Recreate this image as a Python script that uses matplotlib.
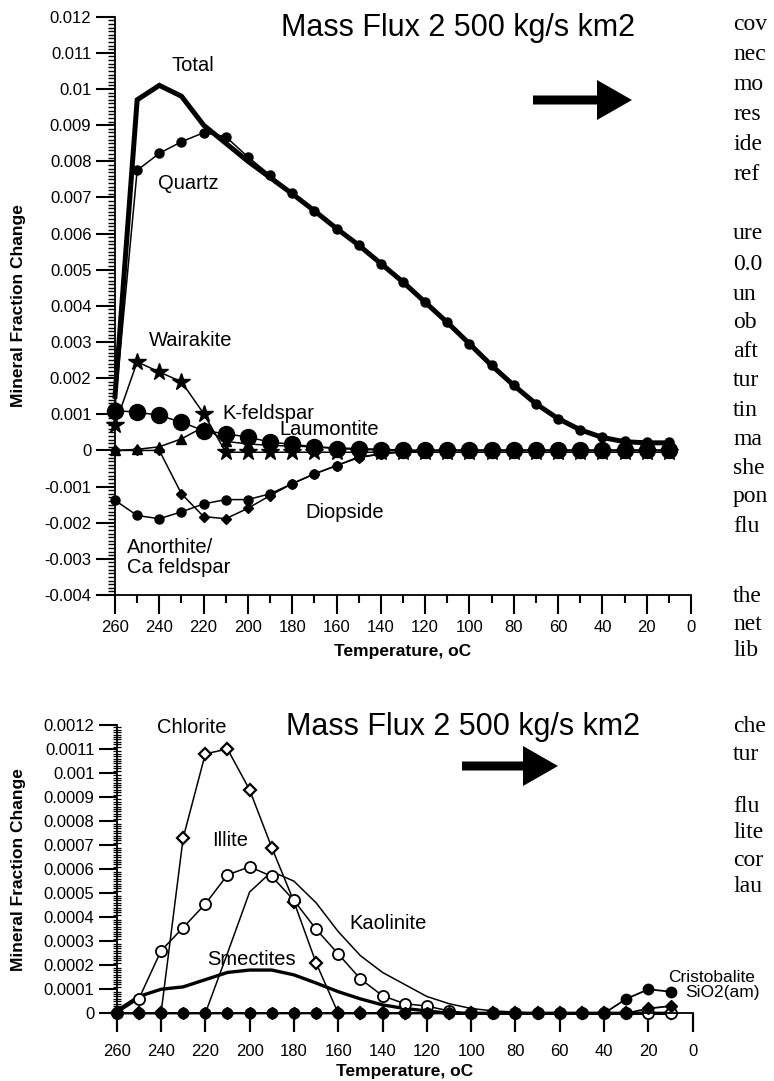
import matplotlib
matplotlib.use("Agg")
import matplotlib.pyplot as plt
from matplotlib.patches import FancyArrow
from matplotlib.ticker import MultipleLocator, FixedLocator, FixedFormatter, NullLocator

plt.rcParams['font.family'] = ['Liberation Sans', 'DejaVu Sans']

# ---------------- data ----------------
temps = [260, 250, 240, 230, 220, 210, 200, 190, 180, 170, 160, 150, 140,
         130, 120, 110, 100, 90, 80, 70, 60, 50, 40, 30, 20, 10]

# top panel
total = [0.0015, 0.0097, 0.0101, 0.0098, 0.0090, 0.0085, 0.0080, 0.00755, 0.0071, 0.00663,
         0.00614, 0.00568, 0.00517, 0.00466, 0.0041, 0.00354, 0.00295, 0.00235, 0.0018,
         0.00129, 0.00088, 0.00057, 0.00036, 0.00024, 0.00021, 0.00021]
quartz = [0.0012, 0.00775, 0.00822, 0.00854, 0.00879, 0.00868, 0.00812, 0.00762, 0.00711,
          0.00663, 0.00614, 0.00568, 0.00517, 0.00466, 0.0041, 0.00354, 0.00295, 0.00235,
          0.0018, 0.00129, 0.00088, 0.00057, 0.00037, 0.00025, 0.00022, 0.00022]
wairakite = [0.0007, 0.00245, 0.00217, 0.0019, 0.00102, -0.00005, -0.00005, -0.00005,
             -0.00005, -0.00005, -0.00005, -0.00005, -0.00005, -0.00005, -0.00005, -0.00005,
             -0.00005, -0.00005, -0.00005, -0.00005, -0.00005, -0.00005, -0.00005, -0.00005,
             -0.00005, -0.00005]
kfeldspar = [0.0011, 0.00106, 0.00097, 0.00078, 0.00055, 0.00046, 0.00037, 0.00023, 0.00017,
             0.0001, 0.00005, 0.00003, 0.00001, 0, 0, 0, 0, 0, 0, 0, 0, 0, 0, 0, 0, 0]
laumontite = [0, 0.00003, 0.0001, 0.00032, 0.00065, 0.00025, 0.00018, 0.00014, 0.00012,
              0.0001, 0.00007, 0.00005, 0.00003, 0.00001, 0, 0, 0, 0, 0, 0, 0, 0, 0, 0, 0, 0]
diopside = [0, 0, 0, -0.0012, -0.00183, -0.00189, -0.0016, -0.00125, -0.00092, -0.00065,
            -0.00042, -0.0002, -0.0001, -0.00003, 0, 0, 0, 0, 0, 0, 0, 0, 0, 0, 0, 0]
anorthite = [-0.00138, -0.0018, -0.00189, -0.0017, -0.00148, -0.00136, -0.00136, -0.0012,
             -0.00092, -0.00065, -0.00042, -0.00018, -0.0001, -0.00004, -0.00001, 0, 0, 0,
             0, 0, 0, 0, 0, 0, 0, 0]

# bottom panel
chlorite = [0, 0, 0, 0.00073, 0.00108, 0.0011, 0.00093, 0.00069, 0.000465, 0.00021, 0,
            0, 0, 0, 0, 0, 0, 0, 0, 0, 0, 0, 0, 0, 0, 0]
illite = [0, 0.00006, 0.00026, 0.000357, 0.000455, 0.000576, 0.00061, 0.00057, 0.00047,
          0.00035, 0.000247, 0.000143, 0.000073, 0.00004, 0.00003, 0.00001, 0, 0, 0, 0,
          0, 0, 0, 0, 0, 0]
kaolinite = [0, 0, 0, 0, 0, 0.00025, 0.000505, 0.00059, 0.00055, 0.00046, 0.00034, 0.00024,
             0.00017, 0.00012, 0.00007, 0.00004, 0.00002, 0.00001, 0.000005, 0, 0, 0, 0, 0,
             0, 0]
smectites = [0.00001, 0.00007, 0.0001, 0.00011, 0.00014, 0.00017, 0.00018, 0.00018, 0.00016,
             0.000126, 0.00009, 0.00006, 0.000035, 0.00002, 0.00001, 0, 0, 0, 0, 0, 0, 0, 0,
             0, 0, 0]
cristobalite = [0, 0, 0, 0, 0, 0, 0, 0, 0, 0, 0, 0, 0, 0, 0, 0, 0, 0, 0, 0, 0, 0, 0,
                0.00006, 0.0001, 0.00009]
sio2am = [0, 0, 0, 0, 0, 0, 0, 0, 0, 0, 0, 0, 0, 0, 0, 0, 0, 0, 0, 0, 0, 0, 0, 0,
          0.00002, 0.00003]

xticks = [260, 240, 220, 200, 180, 160, 140, 120, 100, 80, 60, 40, 20, 0]
yticks_top = [-0.004, -0.003, -0.002, -0.001, 0, 0.001, 0.002, 0.003, 0.004, 0.005,
              0.006, 0.007, 0.008, 0.009, 0.01, 0.011, 0.012]
ylabels_top = ['-0.004', '-0.003', '-0.002', '-0.001', '0', '0.001', '0.002', '0.003',
               '0.004', '0.005', '0.006', '0.007', '0.008', '0.009', '0.01', '0.011', '0.012']
yticks_bot = [0, 0.0001, 0.0002, 0.0003, 0.0004, 0.0005, 0.0006, 0.0007, 0.0008, 0.0009,
              0.001, 0.0011, 0.0012]
ylabels_bot = ['0', '0.0001', '0.0002', '0.0003', '0.0004', '0.0005', '0.0006', '0.0007',
               '0.0008', '0.0009', '0.001', '0.0011', '0.0012']

title = 'Mass Flux 2 500 kg/s km2'
side_text = [('cov', 24), ('nec', 54), ('mo', 84), ('res', 114), ('ide', 144), ('ref', 174),
             ('ure', 234), ('0.0', 264), ('un', 294), ('ob', 323), ('aft', 352), ('tur', 381),
             ('tin', 410), ('ma', 439), ('she', 468), ('pon', 497), ('flu', 526),
             ('the', 597), ('net', 624), ('lib', 651), ('che', 727), ('tur', 754),
             ('flu', 806), ('lite', 833), ('cor', 860), ('lau', 887)]

# ---------------- figure ----------------
W, H = 774, 1081
fig = plt.figure(figsize=(W / 100, H / 100), dpi=100)
fig.patch.set_facecolor('white')


def rect(l, r, t, b):
    return [l / W, 1 - b / H, (r - l) / W, (b - t) / H]


K = 'black'

# ======== top panel ========
ax1 = fig.add_axes(rect(115, 691, 16.7, 595))
ax1.set_xlim(260, 0)
ax1.set_ylim(-0.004, 0.012)
kw = dict(color=K, clip_on=False)
ax1.plot(temps, anorthite, marker='o', ms=6.5, lw=1.1, **kw)
ax1.plot(temps, diopside, marker='D', ms=5.5, lw=1.1, **kw)
ax1.plot(temps, laumontite, marker='^', ms=7.5, lw=1.1, **kw)
ax1.plot(temps, kfeldspar, marker='o', ms=11.5, lw=1.1, **kw)
ax1.plot(temps, wairakite, marker='*', ms=13, lw=1.1, **kw)
ax1.plot(temps, quartz, marker='o', ms=6.5, lw=1.1, **kw)
ax1.plot(temps, total, lw=3.6, solid_joinstyle='miter', **kw)

for s in ['top', 'right']:
    ax1.spines[s].set_visible(False)
for s in ['left', 'bottom']:
    ax1.spines[s].set_linewidth(1.3)
ax1.xaxis.set_major_locator(FixedLocator(xticks))
ax1.xaxis.set_minor_locator(MultipleLocator(10))
ax1.yaxis.set_major_locator(FixedLocator(yticks_top))
ax1.yaxis.set_major_formatter(FixedFormatter(ylabels_top))
ax1.yaxis.set_minor_locator(MultipleLocator(0.0001))
ax1.tick_params(axis='x', which='major', direction='out', length=14, width=1.5,
                labelsize=12, pad=4)
ax1.tick_params(axis='x', which='minor', direction='out', length=6, width=1.5)
ax1.tick_params(axis='y', which='major', direction='out', length=14, width=1.5,
                labelsize=12, pad=3)
ax1.tick_params(axis='y', which='minor', direction='out', length=5, width=1)
ax1.set_xlabel('Temperature, oC', fontsize=12.5, fontweight='bold')
ax1.xaxis.set_label_coords(0.5, -0.085)
ax1.set_ylabel('Mineral Fraction Change', fontsize=12.5, fontweight='bold')
ax1.yaxis.set_label_coords(-0.155, 0.5)

tk = dict(fontsize=14.5, color=K)
ax1.text(225, 0.01066, 'Total', ha='center', va='center', **tk)
ax1.text(227, 0.00739, 'Quartz', ha='center', va='center', **tk)
ax1.text(226, 0.00305, 'Wairakite', ha='center', va='center', **tk)
ax1.text(211.5, 0.00102, 'K-feldspar', ha='left', va='center', **tk)
ax1.text(186, 0.00058, 'Laumontite', ha='left', va='center', **tk)
ax1.text(174, -0.00171, 'Diopside', ha='left', va='center', **tk)
ax1.text(254.5, -0.00297, 'Anorthite/\nCa feldspar', ha='left', va='center',
         linespacing=1.05, **tk)
ax1.text(0.595, 0.98, title, transform=ax1.transAxes, ha='center', va='center',
         fontsize=22, color=K)

# ======== bottom panel ========
ax2 = fig.add_axes(rect(116.7, 692.7, 725, 1013.3))
ax2.set_xlim(260, 0)
ax2.set_ylim(0, 0.0012)
ax2.plot(temps, smectites, lw=2.4, **kw)
ax2.plot(temps, kaolinite, lw=1.1, **kw)
ax2.plot(temps, chlorite, marker='D', ms=6, mfc='white', mec=K, mew=1.6, lw=1.1, **kw)
ax2.plot(temps, illite, marker='o', ms=8, mfc='white', mec=K, mew=1.3, lw=1.1, **kw)
ax2.plot(temps, cristobalite, marker='o', ms=7.5, lw=1.3, **kw)
ax2.plot(temps, sio2am, marker='D', ms=6.5, lw=1.3, **kw)

for s in ['top', 'right']:
    ax2.spines[s].set_visible(False)
for s in ['left', 'bottom']:
    ax2.spines[s].set_linewidth(1.3)
ax2.xaxis.set_major_locator(FixedLocator(xticks))
ax2.xaxis.set_minor_locator(NullLocator())
ax2.yaxis.set_major_locator(FixedLocator(yticks_bot))
ax2.yaxis.set_major_formatter(FixedFormatter(ylabels_bot))
ax2.yaxis.set_minor_locator(MultipleLocator(0.00001))
ax2.tick_params(axis='x', which='major', direction='out', length=14, width=1.6,
                labelsize=12, pad=8)
ax2.tick_params(axis='y', which='major', direction='out', length=13, width=1.5,
                labelsize=12, pad=3)
ax2.tick_params(axis='y', which='minor', direction='inout', length=6, width=0.9)
ax2.set_xlabel('Temperature, oC', fontsize=12.5, fontweight='bold')
ax2.xaxis.set_label_coords(0.5, -0.175)
ax2.set_ylabel('Mineral Fraction Change', fontsize=12.5, fontweight='bold')
ax2.yaxis.set_label_coords(-0.158, 0.5)

ax2.text(226, 0.00119, 'Chlorite', ha='center', va='center', **tk)
ax2.text(209, 0.00072, 'Illite', ha='center', va='center', **tk)
ax2.text(199, 0.000222, 'Smectites', ha='center', va='center', **tk)
ax2.text(155, 0.000375, 'Kaolinite', ha='left', va='center', **tk)
ax2.text(11, 0.000147, 'Cristobalite', ha='left', va='center', fontsize=12.5,
         color=K, clip_on=False)
ax2.text(3.5, 0.000085, 'SiO2(am)', ha='left', va='center', fontsize=12.5,
         color=K, clip_on=False)
ax2.text(0.601, 0.993, title, transform=ax2.transAxes, ha='center', va='center',
         fontsize=22, color=K)

# ======== arrows (figure pixel positions converted to inches) ========
for (x0, x1, yc) in [(533, 632, 100), (462, 558, 766)]:
    arr = FancyArrow(x0 / 100, (H - yc) / 100, (x1 - x0) / 100, 0, width=0.09,
                     head_width=0.40, head_length=0.35, length_includes_head=True,
                     transform=fig.dpi_scale_trans, color=K, lw=0)
    fig.add_artist(arr)

# ======== clipped page text on the right ========
for word, ypx in side_text:
    fig.text(733 / W, 1 - ypx / H, word, ha='left', va='center', fontsize=17,
             family=['Liberation Serif', 'DejaVu Serif'], color=K)

fig.savefig('out.png', dpi=100, facecolor='white')
